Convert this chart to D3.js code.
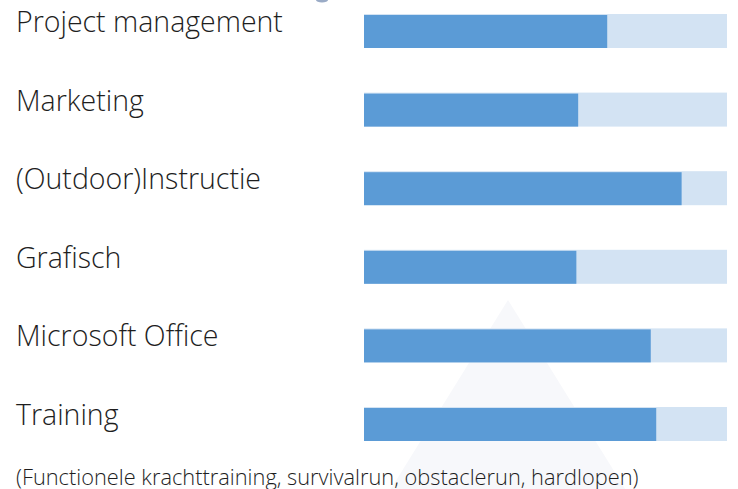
<!DOCTYPE html>
<html>
<head>
<meta charset="utf-8">
<script src="https://cdn.jsdelivr.net/npm/d3@7"></script>
<style>
  body { margin: 0; background: #fff; }
  svg { display: block; }
</style>
</head>
<body>
<svg id="chart"></svg>
<script>
var width = 738, height = 489;

// skills and how far each bar is filled (percent)
var skills = ["Project management", "Marketing", "(Outdoor)Instructie", "Grafisch", "Microsoft Office", "Training"];
var levels = [67, 59, 87.5, 58.5, 79, 80.5];
var footnote = "(Functionele krachttraining, survivalrun, obstaclerun, hardlopen)";

var svg = d3.select("svg#chart")
    .attr("width", width)
    .attr("height", height);

// faint triangle in the background of the slide
svg.append("path")
    .attr("d", "M508,300 L632,500 L384,500 Z")
    .attr("fill", "#f7f8fb");

// bit of the cut-off heading above
svg.append("ellipse")
    .attr("cx", 322).attr("cy", 0)
    .attr("rx", 6).attr("ry", 2.5)
    .attr("fill", "#9aabc6");

var x = d3.scaleLinear()
    .domain([0, 100])
    .range([364, 727]);

// top of each bar
var y = d3.scalePoint()
    .domain(skills)
    .range([14, 407]);

var rows = svg.append("g")
    .selectAll("g")
    .data(skills)
    .enter()
    .append("g");

// label
rows.append("text")
    .attr("x", 16)
    .attr("y", function (d) { return y(d) + 18; })
    .attr("font-family", "'Open Sans', sans-serif")
    .attr("font-weight", 300)
    .attr("font-size", 28.5)
    .attr("fill", "#1e1e1e")
    .text(function (d) { return d; });

// background track
rows.append("rect")
    .attr("x", x(0))
    .attr("y", function (d) { return y(d); })
    .attr("width", x(100) - x(0))
    .attr("height", 34)
    .attr("fill", "#d3e3f3");

// filled part
rows.append("rect")
    .attr("x", x(0))
    .attr("y", function (d) { return y(d) + 1; })
    .attr("width", function (d, i) { return x(levels[i]) - x(0); })
    .attr("height", 33)
    .attr("fill", "#5b9bd6");

svg.append("text")
    .attr("x", 16)
    .attr("y", 485)
    .attr("font-family", "'Open Sans', sans-serif")
    .attr("font-weight", 300)
    .attr("font-size", 21.8)
    .attr("fill", "#1e1e1e")
    .text(footnote);
</script>
</body>
</html>
